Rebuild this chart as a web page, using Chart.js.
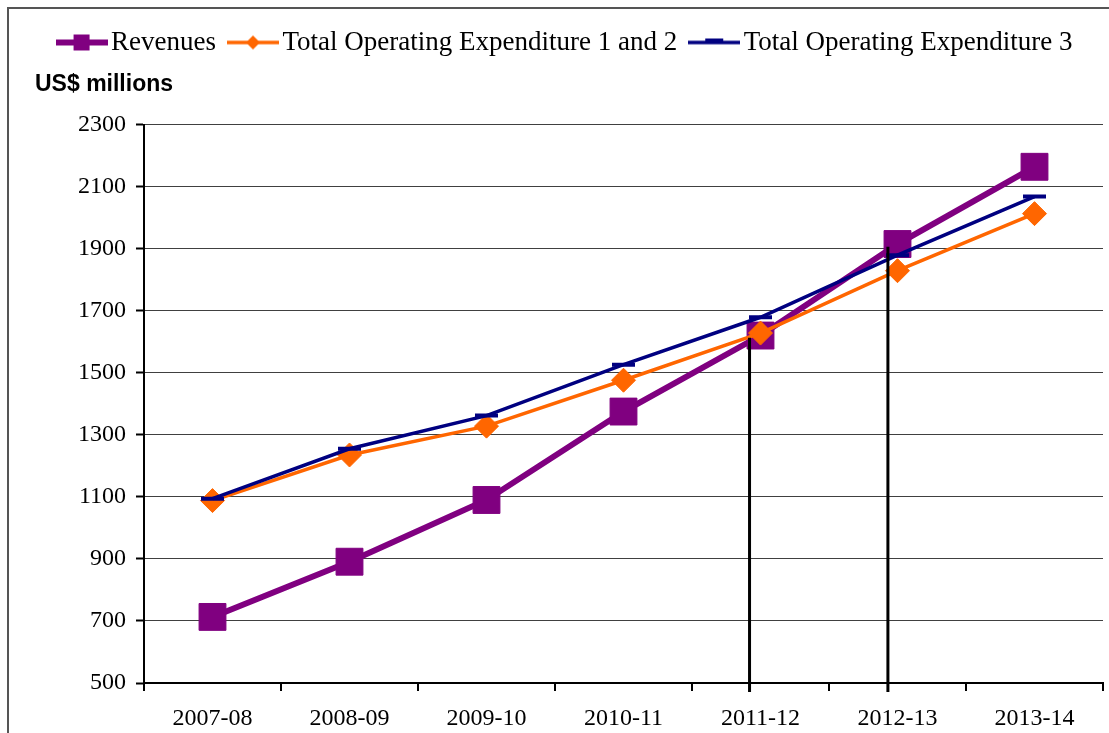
<!DOCTYPE html>
<html>
<head>
<meta charset="utf-8">
<script src="https://cdn.jsdelivr.net/npm/chart.js@4"></script>
<style>
  html, body { margin: 0; padding: 0; background: #fff; overflow: hidden; }
  #frame { position: absolute; left: 7px; top: 7px; width: 1300px; height: 900px; border: 2px solid #555; }
  #myCanvas { position: absolute; left: 0; top: 0; }
</style>
</head>
<body>
<div id="frame"></div>
<canvas id="myCanvas" width="1109" height="733"></canvas>
<script>
const years = ['2007-08', '2008-09', '2009-10', '2010-11', '2011-12', '2012-13', '2013-14'];
const revenues = [713, 891, 1090, 1375, 1620, 1915, 2164];
const opex12 = [1088, 1235, 1328, 1476, 1628, 1829, 2013];
const opex3 = [1094, 1255, 1362, 1526, 1679, 1879, 2068];
const yMin = 500;
const yMax = 2300;
const yStep = 200;

// the two vertical lines drawn over the chart (category position, value at the top)
const dropLineAt = [3.92, 4.93];
const dropLineTop = [1613, 1906];
const dropLineBottom = 471;

const PURPLE = '#800080';
const ORANGE = '#FF6600';
const NAVY = '#000080';

function legendIcon(color, lineW, style, r) {
  const c = document.createElement('canvas');
  c.width = 52;
  c.height = 28;
  const g = c.getContext('2d');
  g.strokeStyle = color;
  g.fillStyle = color;
  g.lineWidth = lineW;
  g.beginPath();
  g.moveTo(0, 14);
  g.lineTo(52, 14);
  g.stroke();
  if (style === 'rect') {
    g.fillRect(26 - r, 14 - r, 2 * r, 2 * r);
  } else if (style === 'rectRot') {
    g.beginPath();
    g.moveTo(26 - r, 14);
    g.lineTo(26, 14 - r);
    g.lineTo(26 + r, 14);
    g.lineTo(26, 14 + r);
    g.closePath();
    g.fill();
  } else {
    g.lineWidth = 4;
    g.beginPath();
    g.moveTo(26 - r, 12);
    g.lineTo(26 + r, 12);
    g.stroke();
  }
  return c;
}

const icons = [
  legendIcon(PURPLE, 6, 'rect', 8),
  legendIcon(ORANGE, 3.5, 'rectRot', 7),
  legendIcon(NAVY, 3.5, 'line', 9)
];

const dropLines = {
  id: 'dropLines',
  afterDatasetsDraw(chart) {
    const {ctx, scales: {x, y}} = chart;
    ctx.save();
    ctx.strokeStyle = '#000';
    ctx.lineWidth = 3;
    dropLineAt.forEach((pos, i) => {
      const px = x.getPixelForValue(pos);
      ctx.beginPath();
      ctx.moveTo(px, y.getPixelForValue(dropLineTop[i]));
      ctx.lineTo(px, y.getPixelForValue(dropLineBottom));
      ctx.stroke();
    });
    ctx.restore();
  }
};

const data = {
  labels: years,
  datasets: [
    {
      label: 'Revenues',
      data: revenues,
      borderColor: PURPLE,
      backgroundColor: PURPLE,
      borderWidth: 6,
      pointStyle: 'rect',
      pointRadius: 19,
      pointBorderWidth: 1,
      order: 3
    },
    {
      label: 'Total Operating Expenditure 1 and 2',
      data: opex12,
      borderColor: ORANGE,
      backgroundColor: ORANGE,
      borderWidth: 3.5,
      pointStyle: 'rectRot',
      pointRadius: 12,
      pointBorderWidth: 1,
      order: 2
    },
    {
      label: 'Total Operating Expenditure 3',
      data: opex3,
      borderColor: NAVY,
      backgroundColor: NAVY,
      borderWidth: 3.5,
      pointStyle: 'line',
      pointRadius: 11.5,
      pointBorderWidth: 4,
      order: 1
    }
  ]
};

const config = {
  type: 'line',
  data: data,
  options: {
    responsive: false,
    animation: false,
    devicePixelRatio: 1,
    layout: { autoPadding: false, padding: { left: 35, right: 6, top: 8, bottom: 0 } },
    elements: { line: { tension: 0 } },
    plugins: {
      tooltip: { enabled: false },
      legend: {
        position: 'top',
        weight: 3000,
        labels: {
          usePointStyle: true,
          pointStyleWidth: 32,
          padding: 21,
          color: '#000',
          font: { family: 'Liberation Serif', size: 27 },
          generateLabels: (chart) => chart.data.datasets.map((ds, i) => ({
            text: ds.label,
            pointStyle: icons[i],
            fillStyle: ds.borderColor,
            strokeStyle: ds.borderColor,
            lineWidth: 0,
            hidden: false,
            fontColor: '#000',
            datasetIndex: i
          }))
        }
      },
      title: {
        display: true,
        text: 'US$ millions',
        align: 'start',
        color: '#000',
        font: { family: 'Liberation Sans', size: 23, weight: 'bold' },
        padding: { top: 5, bottom: 26 }
      }
    },
    scales: {
      x: {
        offset: true,
        grid: { offset: true, drawOnChartArea: false, drawTicks: true, tickLength: 8, color: '#000', lineWidth: 2 },
        border: { color: '#000', width: 2 },
        ticks: { color: '#000', padding: 13, font: { family: 'Liberation Serif', size: 24 }, maxRotation: 0 },
        afterFit: (scale) => { scale.height = 50; }
      },
      y: {
        min: yMin,
        max: yMax,
        grid: { color: '#404040', lineWidth: 1, tickLength: 8, tickColor: '#000', tickWidth: 2 },
        border: { color: '#000', width: 2 },
        ticks: {
          stepSize: yStep,
          color: '#000',
          padding: 10,
          font: { family: 'Liberation Serif', size: 24 },
          callback: (v) => String(v)
        },
        afterFit: (scale) => { scale.width = 109; }
      }
    }
  },
  plugins: [dropLines]
};

const myChart = new Chart(document.getElementById('myCanvas'), config);
</script>
</body>
</html>
